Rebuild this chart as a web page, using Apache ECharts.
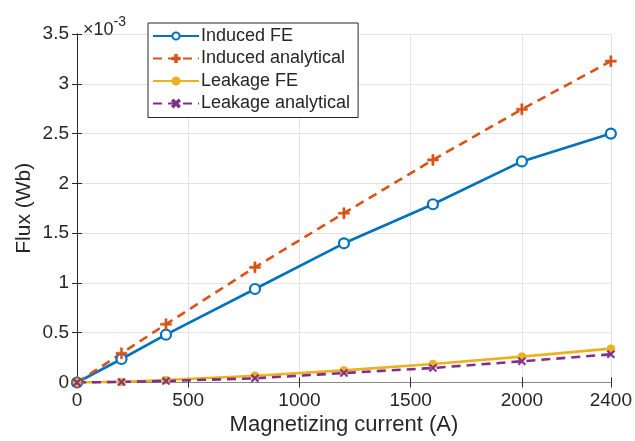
<!DOCTYPE html>
<html>
<head>
<meta charset="utf-8">
<script src="https://cdn.jsdelivr.net/npm/echarts@6/dist/echarts.min.js"></script>
<style>
  html, body { margin: 0; padding: 0; background: #fff; }
  #chart { width: 635px; height: 441px; }
</style>
</head>
<body>
<div id="chart"></div>
<script>
// magnetizing current (A)
const current = [0, 200, 400, 800, 1200, 1600, 2000, 2400];
// flux values in units of 1e-3 Wb
const inducedFE = [0, 0.236, 0.48, 0.939, 1.398, 1.79, 2.22, 2.50];
const inducedAnalytical = [0, 0.293, 0.585, 1.157, 1.70, 2.235, 2.744, 3.227];
const leakageFE = [0, 0.006, 0.025, 0.068, 0.122, 0.186, 0.26, 0.34];
const leakageAnalytical = [0, 0.005, 0.015, 0.042, 0.095, 0.146, 0.213, 0.283];
const xTicks = [0, 500, 1000, 1500, 2000, 2400];

const FONT = '"Liberation Sans", Arial, sans-serif';
const TXT = '#262626';

// marker shapes
const plusPath = 'path://M4,0 H6 V4 H10 V6 H6 V10 H4 V6 H0 V4 H4 Z';
const crossPath = 'path://M1.5,0 L5,3.5 L8.5,0 L10,1.5 L6.5,5 L10,8.5 L8.5,10 L5,6.5 L1.5,10 L0,8.5 L3.5,5 L0,1.5 Z';

const pairs = arr => current.map((x, i) => [x, arr[i]]);

const chart = echarts.init(document.getElementById('chart'));

function mkSeries(name, data, color, type, symbol, size, filled) {
  return {
    name: name,
    type: 'line',
    data: pairs(data),
    symbol: symbol,
    symbolSize: size,
    showAllSymbol: true,
    lineStyle: { color: color, width: 2.6, type: type === 'dash' ? [9, 6] : 'solid' },
    itemStyle: filled
      ? { color: color, borderColor: color, borderWidth: 0.5 }
      : { color: '#fff', borderColor: color, borderWidth: 2.2 },
    emphasis: { disabled: true },
    animation: false,
    z: 3
  };
}

chart.setOption({
  backgroundColor: '#fff',
  animation: false,
  grid: { left: 77, right: 22.5, top: 34, bottom: 58.5, containLabel: false },
  title: {
    text: '{a|×10}{b|-3}',
    left: 78, top: 8,
    textStyle: {
      rich: {
        a: { fontFamily: FONT, fontSize: 18, fontWeight: 'normal', color: TXT, padding: [8, 0, 0, 0] },
        b: { fontFamily: FONT, fontSize: 14, fontWeight: 'normal', color: TXT, padding: [0, 0, 8, 0] }
      }
    }
  },
  legend: {
    orient: 'vertical',
    left: 148, top: 23,
    backgroundColor: '#fff',
    borderColor: TXT,
    borderWidth: 1,
    borderRadius: 0,
    padding: [3, 8, 4, 4],
    itemGap: 2.5,
    itemWidth: 46,
    itemHeight: 9,
    textStyle: { fontFamily: FONT, fontSize: 18, color: TXT, lineHeight: 20, padding: [0, 0, 0, -3] },
    data: ['Induced FE', 'Induced analytical', 'Leakage FE', 'Leakage analytical']
  },
  xAxis: [{
    type: 'value', min: 0, max: 2400,
    name: 'Magnetizing current (A)', nameLocation: 'middle', nameGap: 31, nameMoveOverlap: false,
    nameTextStyle: { fontFamily: FONT, fontSize: 22, color: TXT },
    axisLine: { onZero: false, lineStyle: { color: '#8a8a8a', width: 1 } },
    axisTick: { inside: true, length: 5, lineStyle: { color: TXT }, customValues: xTicks },
    axisLabel: { fontFamily: FONT, fontSize: 19, color: TXT, margin: 9, customValues: xTicks,
      formatter: v => String(v) },
    splitLine: { show: true, lineStyle: { color: '#e3e3e3', width: 1 } }
  }, {
    type: 'value', min: 0, max: 2400, position: 'top',
    axisLine: { show: true, lineStyle: { color: '#8a8a8a', width: 1 } },
    axisTick: { show: true, inside: true, length: 5, lineStyle: { color: TXT }, customValues: xTicks },
    axisLabel: { show: false },
    splitLine: { show: false }
  }],
  yAxis: [{
    type: 'value', min: 0, max: 3.5, interval: 0.5,
    name: 'Flux (Wb)', nameLocation: 'middle', nameGap: 42, nameMoveOverlap: false,
    nameTextStyle: { fontFamily: FONT, fontSize: 21, color: TXT },
    axisLine: { show: true, onZero: false, lineStyle: { color: TXT, width: 1 } },
    axisTick: { show: true, inside: true, length: 5, lineStyle: { color: TXT } },
    axisLabel: { fontFamily: FONT, fontSize: 19, color: TXT, margin: 8, formatter: v => String(v) },
    splitLine: { show: true, lineStyle: { color: '#e3e3e3', width: 1 } }
  }, {
    type: 'value', min: 0, max: 3.5, interval: 0.5, position: 'right',
    axisLine: { show: true, lineStyle: { color: TXT, width: 1 } },
    axisTick: { show: true, inside: true, length: 5, lineStyle: { color: TXT } },
    axisLabel: { show: false },
    splitLine: { show: false }
  }],
  series: [
    mkSeries('Induced FE', inducedFE, '#0072BD', 'solid', 'circle', 10, false),
    mkSeries('Induced analytical', inducedAnalytical, '#D95319', 'dash', plusPath, 11, true),
    mkSeries('Leakage FE', leakageFE, '#EDB120', 'solid', 'circle', 8, true),
    mkSeries('Leakage analytical', leakageAnalytical, '#7E2F8E', 'dash', crossPath, 8, true)
  ]
});
</script>
</body>
</html>
